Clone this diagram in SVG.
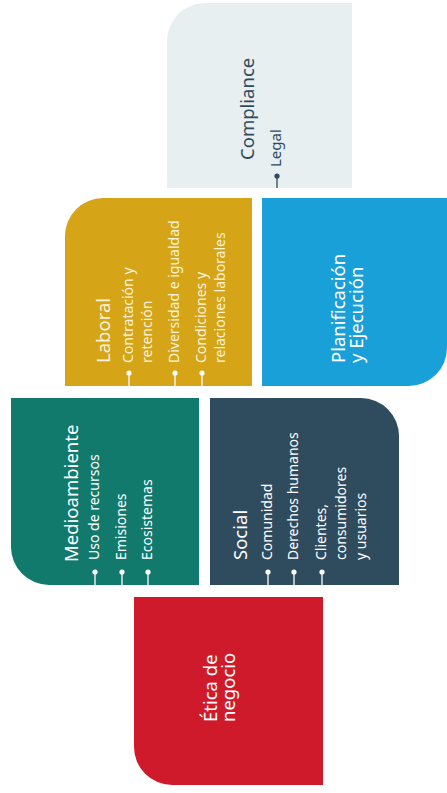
<svg xmlns="http://www.w3.org/2000/svg" width="447" height="793" viewBox="0 0 447 793">
<style>
text{font-family:"Noto Sans","Open Sans","Liberation Sans",sans-serif;font-weight:normal}
.t{font-size:18.5px}
.i{font-size:14px}
.w{fill:#ffffff}
.wl{fill:#fbf3dc}
.d{fill:#2f4b5e}
.bw{fill:#ffffff}
.lw{stroke:#ffffff;stroke-width:1.3}
.bd{fill:#2f4b5e}
.ld{stroke:#2f4b5e;stroke-width:1.3}
</style>
<rect width="447" height="793" fill="#ffffff"/>
<g id="compliance">
<path d="M167,41 A38,38 0 0 1 205,3 H352 V188 H167 Z" fill="#e7eff1"/>
<text class="t d" transform="translate(254,160) rotate(-90)">Compliance</text>
<text class="i d" transform="translate(281,167) rotate(-90)" style="font-size:15px">Legal</text>
<circle class="bd" cx="277" cy="176" r="2.6"/>
<line class="ld" x1="277" y1="176" x2="277" y2="188"/>
</g>
<g id="laboral">
<path d="M65,236 A38,38 0 0 1 103,198 H252 V386 H65 Z" fill="#d5a417"/>
<text class="t wl" transform="translate(110,363) rotate(-90)">Laboral</text>
<text class="i wl" transform="translate(133,363) rotate(-90)">Contratación y</text>
<text class="i wl" transform="translate(152,363) rotate(-90)">retención</text>
<text class="i wl" transform="translate(179,363) rotate(-90)">Diversidad e igualdad</text>
<text class="i wl" transform="translate(206,363) rotate(-90)">Condiciones y</text>
<text class="i wl" transform="translate(225,363) rotate(-90)">relaciones laborales</text>
<circle class="bw" cx="129" cy="373" r="2.6"/>
<line class="lw" x1="129" y1="373" x2="129" y2="386"/>
<circle class="bw" cx="175" cy="373" r="2.6"/>
<line class="lw" x1="175" y1="373" x2="175" y2="386"/>
<circle class="bw" cx="202" cy="373" r="2.6"/>
<line class="lw" x1="202" y1="373" x2="202" y2="386"/>
</g>
<g id="planificacion">
<path d="M262,198 H447 V348 A38,38 0 0 1 409,386 H262 Z" fill="#19a0d9"/>
<text class="t w" transform="translate(345,363) rotate(-90)">Planificación</text>
<text class="t w" transform="translate(363,363) rotate(-90)">y Ejecución</text>
</g>
<g id="medioambiente">
<path d="M11,398 H199 V585 H49 A38,38 0 0 1 11,547 Z" fill="#117a6c"/>
<text class="t w" transform="translate(78,562) rotate(-90)">Medioambiente</text>
<text class="i w" transform="translate(99,560) rotate(-90)">Uso de recursos</text>
<text class="i w" transform="translate(126,560) rotate(-90)">Emisiones</text>
<text class="i w" transform="translate(152,560) rotate(-90)">Ecosistemas</text>
<circle class="bw" cx="95" cy="572" r="2.6"/>
<line class="lw" x1="95" y1="572" x2="95" y2="585"/>
<circle class="bw" cx="122" cy="572" r="2.6"/>
<line class="lw" x1="122" y1="572" x2="122" y2="585"/>
<circle class="bw" cx="148" cy="572" r="2.6"/>
<line class="lw" x1="148" y1="572" x2="148" y2="585"/>
</g>
<g id="social">
<path d="M210,398 H361 A38,38 0 0 1 399,436 V585 H210 Z" fill="#2f4b5e"/>
<text class="t w" transform="translate(247,560) rotate(-90)">Social</text>
<text class="i w" transform="translate(272,560) rotate(-90)">Comunidad</text>
<text class="i w" transform="translate(298,560) rotate(-90)">Derechos humanos</text>
<text class="i w" transform="translate(326,560) rotate(-90)">Clientes,</text>
<text class="i w" transform="translate(346,560) rotate(-90)">consumidores</text>
<text class="i w" transform="translate(366,560) rotate(-90)">y usuarios</text>
<circle class="bw" cx="268" cy="572" r="2.6"/>
<line class="lw" x1="268" y1="572" x2="268" y2="585"/>
<circle class="bw" cx="294" cy="572" r="2.6"/>
<line class="lw" x1="294" y1="572" x2="294" y2="585"/>
<circle class="bw" cx="322" cy="572" r="2.6"/>
<line class="lw" x1="322" y1="572" x2="322" y2="585"/>
</g>
<g id="etica">
<path d="M134,597 H323 V785 H172 A38,38 0 0 1 134,747 Z" fill="#cf1a2b"/>
<text class="t w" transform="translate(217,722) rotate(-90)">Ética de</text>
<text class="t w" transform="translate(235,722) rotate(-90)">negocio</text>
</g>
<g id="connectors"></g>
</svg>
